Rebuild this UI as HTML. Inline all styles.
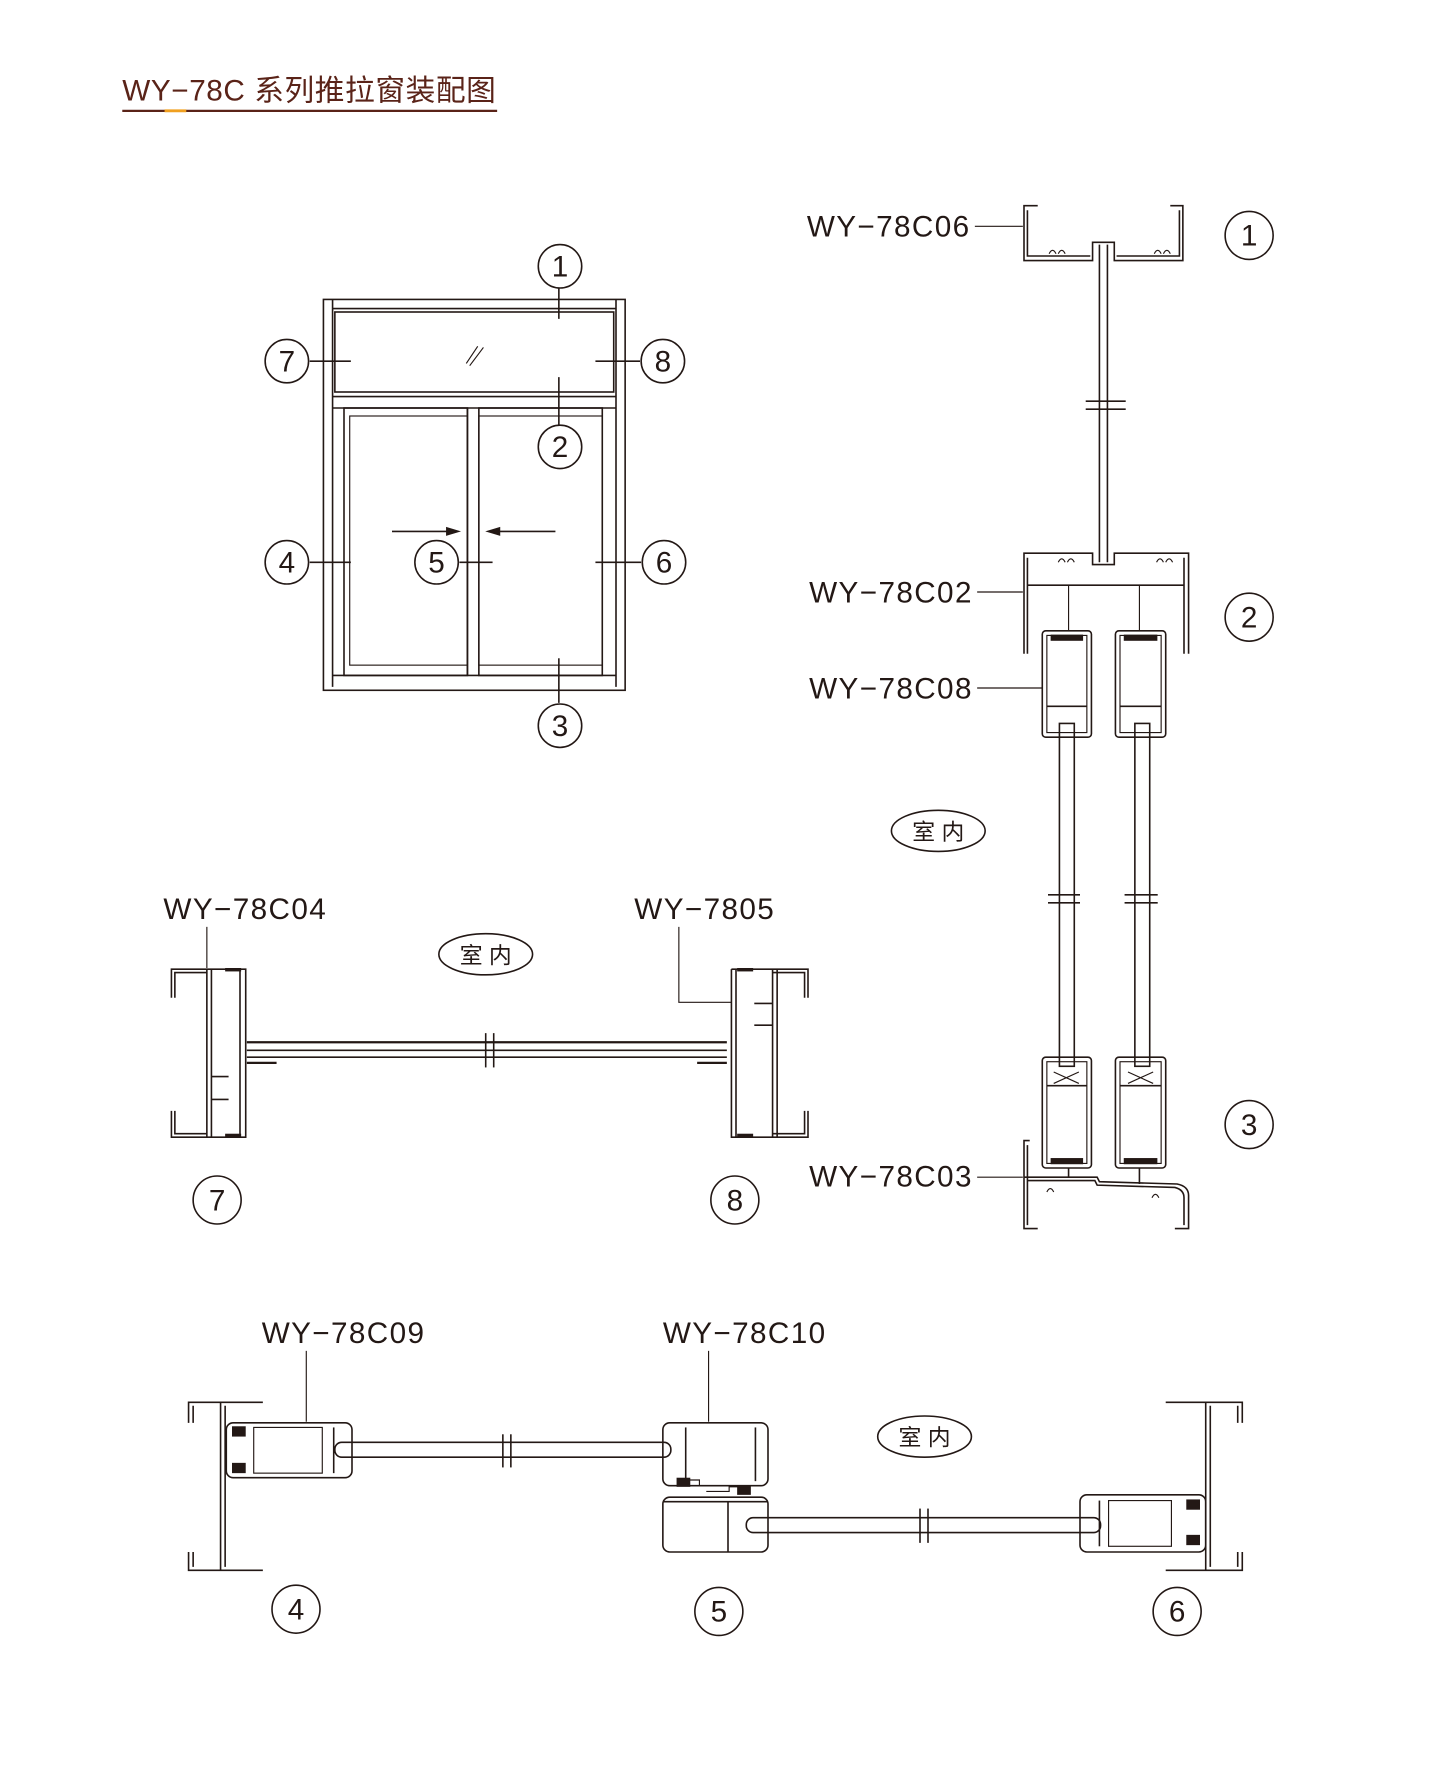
<!DOCTYPE html>
<html><head><meta charset="utf-8"><style>
html,body{margin:0;padding:0;background:#fff;}
svg{display:block;}
text{font-family:"Liberation Sans","Noto Sans CJK SC",sans-serif;fill:#231815;}
</style></head><body>
<svg width="1440" height="1792" viewBox="0 0 1260 1568" preserveAspectRatio="none" xmlns="http://www.w3.org/2000/svg">
<g stroke="#231815" stroke-width="1.4" fill="none">
<!-- Title -->
<text x="107" y="88" font-size="26" letter-spacing="0.5" stroke="none" style="fill:#5a2318">WY−78C 系列推拉窗装配图</text>
<line x1="107" y1="97" x2="435" y2="97" stroke="#5a2318" stroke-width="2"/>
<line x1="144" y1="97" x2="163" y2="97" stroke="#f0a020" stroke-width="2.5"/>

<!-- Elevation window -->
<rect x="283" y="262" width="264" height="342"/>
<line x1="291" y1="262" x2="291" y2="601"/>
<line x1="539" y1="262" x2="539" y2="601"/>
<line x1="291" y1="270" x2="539" y2="270"/>
<rect x="293" y="273" width="244" height="70"/>
<line x1="291" y1="347" x2="539" y2="347"/>
<line x1="291" y1="357" x2="539" y2="357"/>
<line x1="291" y1="591" x2="539" y2="591"/>
<rect x="301" y="357" width="108" height="234"/>
<rect x="306" y="364" width="103" height="218" stroke-width="1"/>
<rect x="419" y="357" width="108" height="234"/>
<rect x="419" y="364" width="108" height="218" stroke-width="1"/>
<line x1="409" y1="357" x2="409" y2="591"/>
<line x1="408" y1="318" x2="418" y2="303" stroke-width="1"/>
<line x1="411" y1="320" x2="423" y2="304" stroke-width="1"/>
<line x1="489" y1="252" x2="489" y2="279"/>
<line x1="271" y1="316" x2="307" y2="316"/>
<line x1="521" y1="316" x2="560" y2="316"/>
<line x1="489" y1="330" x2="489" y2="372"/>
<line x1="271" y1="492" x2="307" y2="492"/>
<line x1="402" y1="492" x2="431" y2="492"/>
<line x1="521" y1="492" x2="561" y2="492"/>
<line x1="489" y1="576" x2="489" y2="615"/>
<line x1="343" y1="465" x2="398" y2="465"/>
<path d="M401 465 l-10 -3 v6 z" fill="#231815"/>
<line x1="430" y1="465" x2="486" y2="465"/>
<path d="M427 465 l10 -3 v6 z" fill="#231815"/>
<g font-size="26" text-anchor="middle">
<circle cx="490" cy="233" r="19"/><text x="490" y="242" stroke="none">1</text>
<circle cx="251" cy="316" r="19"/><text x="251" y="325" stroke="none">7</text>
<circle cx="580" cy="316" r="19"/><text x="580" y="325" stroke="none">8</text>
<circle cx="490" cy="391" r="19"/><text x="490" y="400" stroke="none">2</text>
<circle cx="251" cy="492" r="19"/><text x="251" y="501" stroke="none">4</text>
<circle cx="382" cy="492" r="19"/><text x="382" y="501" stroke="none">5</text>
<circle cx="581" cy="492" r="19"/><text x="581" y="501" stroke="none">6</text>
<circle cx="490" cy="635" r="19"/><text x="490" y="644" stroke="none">3</text>
</g>

<!-- Vertical section right -->
<g font-size="26" letter-spacing="1.2">
<text x="706" y="207" stroke="none">WY−78C06</text>
<text x="708" y="527" stroke="none">WY−78C02</text>
<text x="708" y="611" stroke="none">WY−78C08</text>
<text x="708" y="1038" stroke="none">WY−78C03</text>
</g>
<line x1="853" y1="198" x2="895" y2="198" stroke-width="1"/>
<line x1="855" y1="518" x2="895" y2="518" stroke-width="1"/>
<line x1="855" y1="602" x2="912" y2="602" stroke-width="1"/>
<line x1="855" y1="1030" x2="895" y2="1030" stroke-width="1"/>
<path d="M908 180 H896 V228 H956 V212 H975 V228 H1035 V180 H1024"/>
<path d="M899 184 V224 H954 M977 224 H1032 V184"/>
<path d="M918 222 q3 -6 6 0 M926 222 q3 -6 6 0 M1010 222 q3 -6 6 0 M1018 222 q3 -6 6 0" stroke-width="1"/>
<line x1="962" y1="214" x2="962" y2="492"/>
<line x1="969" y1="214" x2="969" y2="492"/>
<line x1="950" y1="351" x2="985" y2="351"/>
<line x1="950" y1="358" x2="985" y2="358"/>
<path d="M908 484 H896 V572 M1040 572 V484 H975 V494 H956 V484 H908"/>
<path d="M899 488 V572 M1036 488 V572"/>
<line x1="899" y1="512" x2="1036" y2="512"/>
<path d="M926 492 q3 -6 6 0 M934 492 q3 -6 6 0 M1012 492 q3 -6 6 0 M1020 492 q3 -6 6 0" stroke-width="1"/>
<path d="M935 512 v40 M997 512 v40" stroke-width="1"/>
<rect x="912" y="552" width="43" height="93" rx="3"/>
<rect x="916" y="556" width="35" height="85" stroke-width="1"/>
<line x1="916" y1="618" x2="951" y2="618"/>
<rect x="976" y="552" width="44" height="93" rx="3"/>
<rect x="980" y="556" width="36" height="85" stroke-width="1"/>
<line x1="980" y1="618" x2="1016" y2="618"/>
<rect x="920" y="556" width="27" height="4" fill="#231815"/>
<rect x="984" y="556" width="28" height="4" fill="#231815"/>
<rect x="927" y="633" width="13" height="300"/>
<rect x="993" y="633" width="13" height="300"/>
<line x1="917" y1="783" x2="945" y2="783"/><line x1="917" y1="790" x2="945" y2="790"/>
<line x1="984" y1="783" x2="1013" y2="783"/><line x1="984" y1="790" x2="1013" y2="790"/>
<rect x="912" y="925" width="43" height="97" rx="3"/>
<rect x="916" y="929" width="35" height="89" stroke-width="1"/>
<line x1="916" y1="950" x2="951" y2="950"/>
<path d="M922 938 l22 10 M922 948 l22 -10" stroke-width="1"/>
<rect x="976" y="925" width="44" height="97" rx="3"/>
<rect x="980" y="929" width="36" height="89" stroke-width="1"/>
<line x1="980" y1="950" x2="1016" y2="950"/>
<path d="M987 938 l22 10 M987 948 l22 -10" stroke-width="1"/>
<rect x="920" y="1014" width="27" height="4" fill="#231815"/>
<rect x="984" y="1014" width="28" height="4" fill="#231815"/>
<path d="M901 998 H896 V1075 H908 M899 1002 V1072"/>
<path d="M896 1030 H960 L962 1034 L1030 1036 Q1040 1038 1040 1046 V1075 H1028"/>
<path d="M899 1033 H958 L960 1037 L1028 1039 Q1036 1041 1036 1048 V1072"/>
<line x1="935" y1="1022" x2="935" y2="1030"/><line x1="997" y1="1022" x2="997" y2="1036"/>
<path d="M916 1043 q3 -6 6 0 M1008 1048 q3 -6 6 0" stroke-width="1"/>
<g font-size="26" text-anchor="middle">
<circle cx="1093" cy="206" r="21"/><text x="1093" y="215" stroke="none">1</text>
<circle cx="1093" cy="540" r="21"/><text x="1093" y="549" stroke="none">2</text>
<circle cx="1093" cy="984" r="21"/><text x="1093" y="993" stroke="none">3</text>
</g>
<ellipse cx="821" cy="727" rx="41" ry="18"/>
<text x="821" y="735" font-size="20" text-anchor="middle" stroke="none">室 内</text>

<!-- Middle left section 7/8 -->
<g font-size="26" letter-spacing="1.2">
<text x="143" y="804" stroke="none">WY−78C04</text>
<text x="555" y="804" stroke="none">WY−7805</text>
</g>
<line x1="181" y1="811" x2="181" y2="847" stroke-width="1"/>
<path d="M594 811 V877 H640" stroke-width="1"/>
<path d="M150 873 V848 H215 V995 H150 V972"/>
<path d="M153 873 V851 H181 M153 972 V992 H181"/>
<path d="M181 848 V995 M185 848 V995 M210 848 V995"/>
<path d="M185 942 H200 M185 962 H200"/>
<rect x="197" y="847" width="14" height="3" fill="#231815" stroke="none"/>
<rect x="197" y="992" width="14" height="3" fill="#231815" stroke="none"/>
<line x1="216" y1="912" x2="636" y2="912" stroke-width="2"/>
<line x1="216" y1="919" x2="636" y2="919"/>
<line x1="216" y1="925" x2="636" y2="925"/>
<path d="M216 930 H242 M610 930 H636" stroke-width="2"/>
<line x1="425" y1="904" x2="425" y2="934"/><line x1="432" y1="904" x2="432" y2="934"/>
<path d="M640 848 H707 V873 M640 848 V995 H707 V972"/>
<path d="M676 851 H704 V873 M676 992 H704 V972"/>
<path d="M676 848 V995 M680 848 V995 M644 848 V995"/>
<path d="M660 878 H676 M660 897 H676"/>
<rect x="645" y="847" width="14" height="3" fill="#231815" stroke="none"/>
<rect x="645" y="992" width="14" height="3" fill="#231815" stroke="none"/>
<ellipse cx="425" cy="835" rx="41" ry="18"/>
<text x="425" y="843" font-size="20" text-anchor="middle" stroke="none">室 内</text>
<g font-size="26" text-anchor="middle">
<circle cx="190" cy="1050" r="21"/><text x="190" y="1059" stroke="none">7</text>
<circle cx="643" cy="1050" r="21"/><text x="643" y="1059" stroke="none">8</text>
</g>

<!-- Bottom horizontal section -->
<g font-size="26" letter-spacing="1.2">
<text x="229" y="1175" stroke="none">WY−78C09</text>
<text x="580" y="1175" stroke="none">WY−78C10</text>
</g>
<line x1="268" y1="1182" x2="268" y2="1244" stroke-width="1"/>
<line x1="620" y1="1182" x2="620" y2="1244" stroke-width="1"/>
<path d="M165 1245 V1227 H230 M165 1358 V1374 H230"/>
<path d="M169 1245 V1230 M169 1358 V1371"/>
<path d="M193 1227 V1374 M197 1230 V1371"/>
<rect x="198" y="1245" width="110" height="48" rx="6"/>
<rect x="222" y="1249" width="60" height="40" stroke-width="1"/>
<line x1="292" y1="1249" x2="292" y2="1289"/>
<rect x="203" y="1248" width="12" height="9" fill="#231815" stroke="none"/>
<rect x="203" y="1280" width="12" height="9" fill="#231815" stroke="none"/>
<rect x="293" y="1262" width="294" height="13" rx="6"/>
<line x1="440" y1="1255" x2="440" y2="1284"/><line x1="447" y1="1255" x2="447" y2="1284"/>
<rect x="580" y="1245" width="92" height="55" rx="6"/>
<line x1="600" y1="1249" x2="600" y2="1296"/>
<line x1="661" y1="1249" x2="661" y2="1296"/>
<path d="M590 1300 h12 v-5 h10 v5 M618 1305 h20 v-4 h12" stroke-width="1"/>
<rect x="592" y="1293" width="12" height="8" fill="#231815" stroke="none"/>
<rect x="645" y="1300" width="12" height="8" fill="#231815" stroke="none"/>
<rect x="580" y="1310" width="92" height="48" rx="6"/>
<line x1="637" y1="1314" x2="637" y2="1358"/>
<line x1="580" y1="1314" x2="672" y2="1314"/>
<rect x="653" y="1328" width="310" height="13" rx="6"/>
<line x1="805" y1="1320" x2="805" y2="1350"/><line x1="812" y1="1320" x2="812" y2="1350"/>
<rect x="945" y="1308" width="110" height="50" rx="6"/>
<rect x="970" y="1313" width="55" height="40" stroke-width="1"/>
<line x1="962" y1="1313" x2="962" y2="1353"/>
<rect x="1038" y="1312" width="12" height="9" fill="#231815" stroke="none"/>
<rect x="1038" y="1343" width="12" height="9" fill="#231815" stroke="none"/>
<path d="M1020 1227 H1087 V1245 M1020 1374 H1087 V1358"/>
<path d="M1083 1230 V1245 M1083 1358 V1371"/>
<path d="M1055 1227 V1374 M1059 1230 V1371"/>
<ellipse cx="809" cy="1257" rx="41" ry="18"/>
<text x="809" y="1265" font-size="20" text-anchor="middle" stroke="none">室 内</text>
<g font-size="26" text-anchor="middle">
<circle cx="259" cy="1408" r="21"/><text x="259" y="1417" stroke="none">4</text>
<circle cx="629" cy="1410" r="21"/><text x="629" y="1419" stroke="none">5</text>
<circle cx="1030" cy="1410" r="21"/><text x="1030" y="1419" stroke="none">6</text>
</g>
</g>
</svg>
</body></html>
